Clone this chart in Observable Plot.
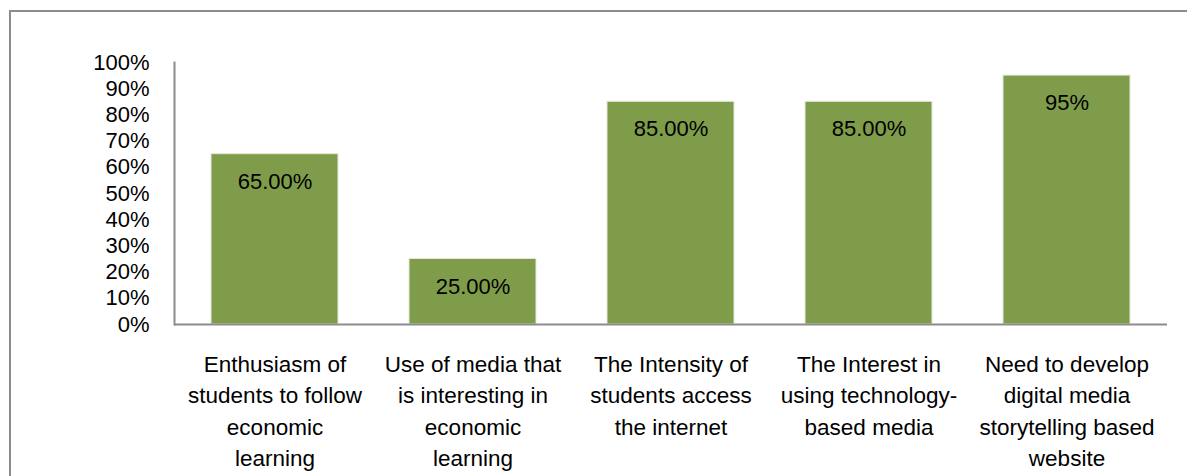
<!DOCTYPE html>
<html>
<head>
<meta charset="utf-8">
<script src="https://cdn.jsdelivr.net/npm/d3@7"></script>
<script src="https://cdn.jsdelivr.net/npm/@observablehq/plot@0.6"></script>
<style>
  html, body { margin: 0; padding: 0; background: #fff; }
  #wrap { position: relative; width: 1187px; height: 476px; overflow: hidden; }
  #frame { position: absolute; left: 9px; top: 10px; width: 1200px; height: 500px; border: 2px solid #8c8c8c; box-sizing: border-box; }
  #chart { position: absolute; left: 0; top: 0; }
  svg { font-family: "Liberation Sans", Arial, sans-serif; }
</style>
</head>
<body>
<div id="wrap"><div id="frame"></div><div id="chart"></div></div>
<script>
const categories = [
  "Enthusiasm of\nstudents to follow\neconomic\nlearning",
  "Use of media that\nis interesting in\neconomic\nlearning",
  "The Intensity of\nstudents access\nthe internet",
  "The Interest in\nusing technology-\nbased media",
  "Need to develop\ndigital media\nstorytelling based\nwebsite"
];
const values = [65, 25, 85, 85, 95];
const valueLabels = ["65.00%", "25.00%", "85.00%", "85.00%", "95%"];
const yTicks = [0, 10, 20, 30, 40, 50, 60, 70, 80, 90, 100];

const data = categories.map((c, i) => ({cat: c, v: values[i], label: valueLabels[i]}));

const chart = Plot.plot({
  width: 1187,
  height: 476,
  marginLeft: 174,
  marginRight: 20,
  marginTop: 62,
  marginBottom: 152,
  style: {fontFamily: "'Liberation Sans', Arial, sans-serif", fontSize: "22px", color: "#000", background: "transparent"},
  x: {domain: categories, paddingInner: 0.36, paddingOuter: 0.18},
  y: {domain: [0, 100]},
  marks: [
    Plot.barY(data, {x: "cat", y: "v", fill: "#7f9c4b", stroke: "#e4e9dc", strokeWidth: 1}),
    Plot.text(data, {x: "cat", y: "v", text: "label", dy: 27.5, fontSize: 22, fill: "#000"}),
    Plot.frame({anchor: "left", stroke: "#8c8c8c", strokeWidth: 2}),
    Plot.ruleY([0], {stroke: "#8c8c8c", strokeWidth: 2}),
    Plot.axisY({ticks: yTicks, tickSize: 0, tickPadding: 25, tickFormat: d => d + "%", fontSize: 22, label: null}),
    Plot.axisX({tickSize: 0, tickPadding: 25, fontSize: 22.5, lineHeight: 1.4, label: null, tickFormat: d => d})
  ]
});
document.getElementById("chart").appendChild(chart);
</script>
</body>
</html>
